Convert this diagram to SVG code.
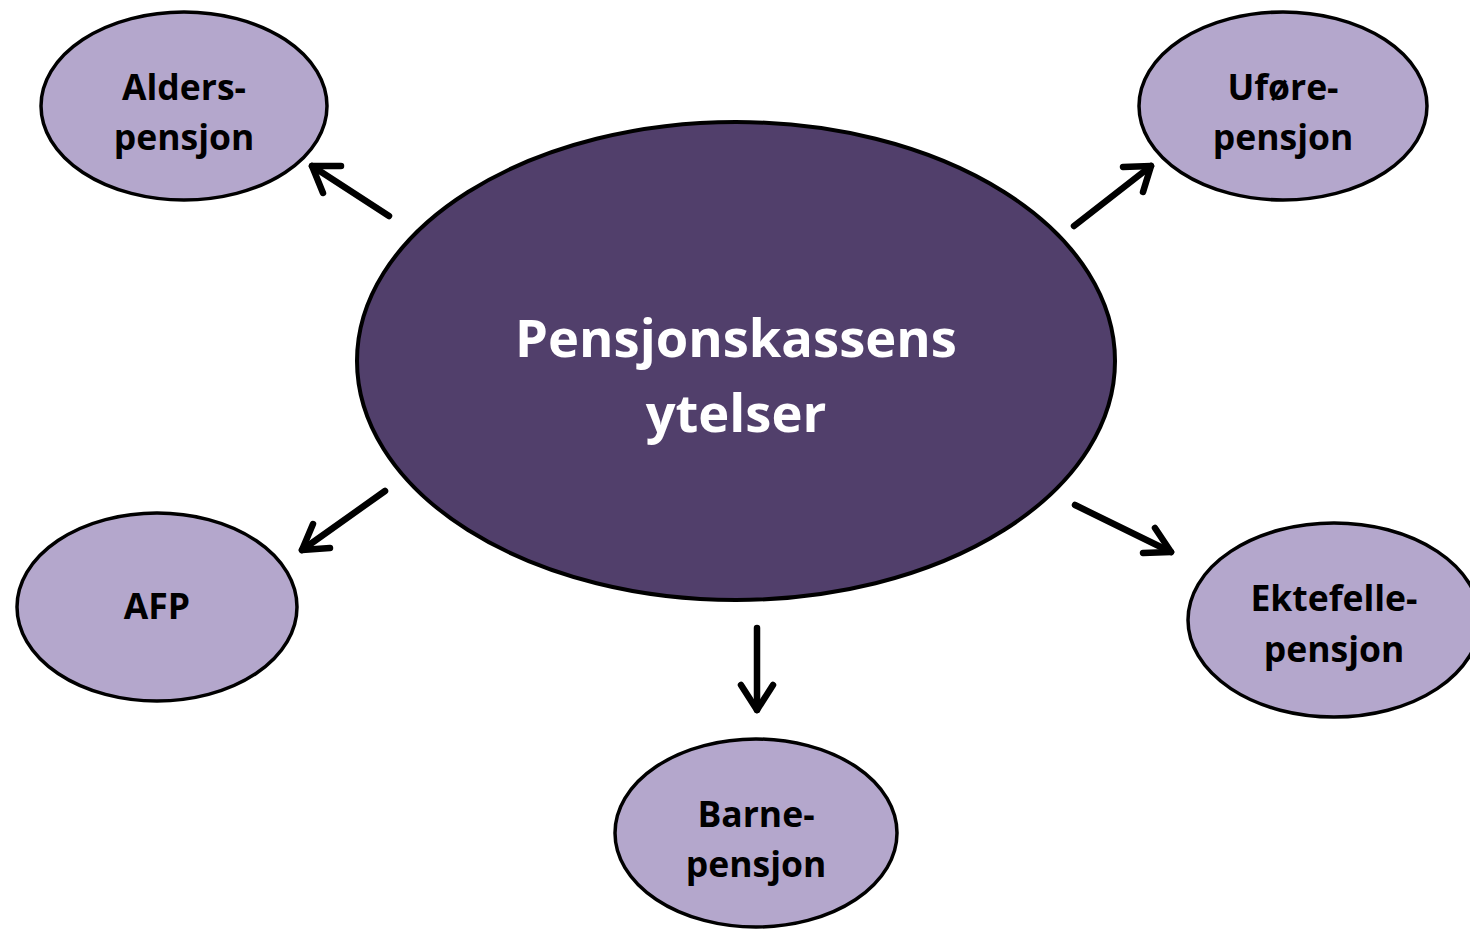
<svg xmlns="http://www.w3.org/2000/svg" width="1470" height="930" viewBox="0 0 1470 930">
<style>
.small{fill:#B4A7CC;stroke:#000;stroke-width:3.5}
.big{fill:#513F6B;stroke:#000;stroke-width:4}
.t{font-family:"Open Sans","Noto Sans",sans-serif;font-weight:bold;font-size:35.5px;fill:#000;text-anchor:middle}
.tb{font-family:"Open Sans","Noto Sans",sans-serif;font-weight:bold;font-size:52.5px;fill:#fff;text-anchor:middle}
.c{fill:none;stroke:#000;stroke-width:6.5;stroke-linecap:round;stroke-linejoin:round}
</style>
<rect width="1470" height="930" fill="#fff"/>
<g id="center">
<ellipse class="big" cx="736" cy="361" rx="379" ry="239"/>
<text class="tb" x="736" y="357">Pensjonskassens</text>
<text class="tb" x="736" y="432">ytelser</text>
</g>
<g id="alders">
<ellipse class="small" cx="184" cy="106" rx="143" ry="94"/>
<text class="t" x="184" y="100">Alders-</text>
<text class="t" x="184" y="150">pensjon</text>
</g>
<g id="ufore">
<ellipse class="small" cx="1283" cy="106" rx="144" ry="94"/>
<text class="t" x="1283" y="100">Uføre-</text>
<text class="t" x="1283" y="150">pensjon</text>
</g>
<g id="afp">
<ellipse class="small" cx="157" cy="607" rx="140" ry="94"/>
<text class="t" x="157" y="619">AFP</text>
</g>
<g id="ektefelle">
<ellipse class="small" cx="1334" cy="620" rx="146" ry="97"/>
<text class="t" x="1334" y="611">Ektefelle-</text>
<text class="t" x="1334" y="662">pensjon</text>
</g>
<g id="barne">
<ellipse class="small" cx="756" cy="833" rx="141" ry="94"/>
<text class="t" x="756" y="827">Barne-</text>
<text class="t" x="756" y="877">pensjon</text>
</g>
<g id="connectors">
<line class="c" x1="389" y1="216" x2="312" y2="166"/>
<polyline class="c" points="341,166 312,166 323,193"/>
<line class="c" x1="1074" y1="226" x2="1151" y2="166"/>
<polyline class="c" points="1123,167 1151,166 1143,192"/>
<line class="c" x1="385" y1="491" x2="302" y2="550"/>
<polyline class="c" points="313,524 302,550 330,548"/>
<line class="c" x1="1075" y1="505" x2="1171" y2="552"/>
<polyline class="c" points="1155,528 1171,552 1143,553"/>
<line class="c" x1="757" y1="628" x2="757" y2="710"/>
<polyline class="c" points="741,685 757,710 773,685"/>
</g>
</svg>
